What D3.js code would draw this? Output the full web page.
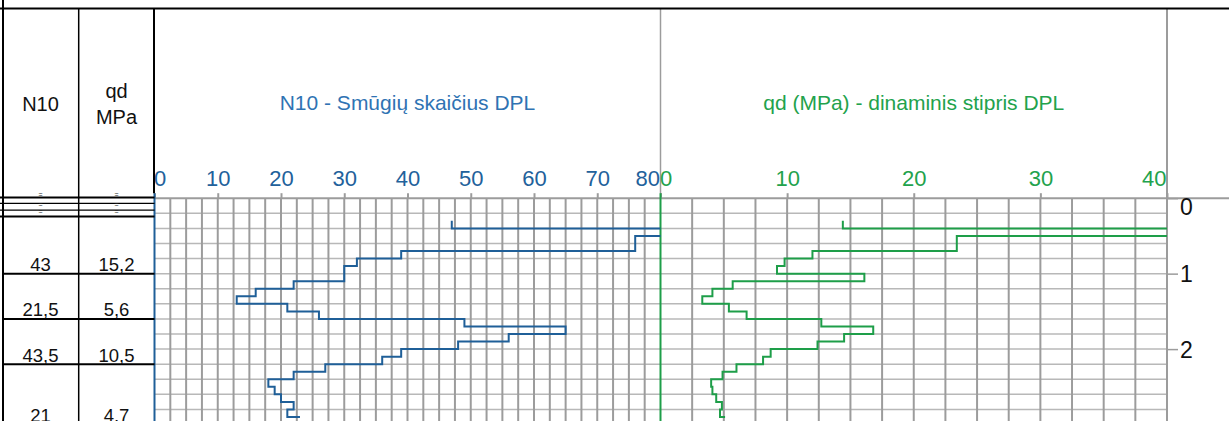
<!DOCTYPE html>
<html>
<head>
<meta charset="utf-8">
<script src="https://cdn.jsdelivr.net/npm/d3@7"></script>
<style>
  html, body { margin: 0; padding: 0; background: #ffffff; overflow: hidden; }
  svg { display: block; }
  svg text { font-family: Arial, "Liberation Sans", Helvetica, sans-serif; }
</style>
</head>
<body>
<svg id="chart" width="1229" height="421"></svg>
<script>
// depth of each DPL reading (m)
const depths = [0.3, 0.4, 0.5, 0.6, 0.7, 0.8, 0.9, 1.0, 1.1, 1.2, 1.3, 1.4, 1.5, 1.6, 1.7, 1.8, 1.9, 2.0, 2.1, 2.2, 2.3, 2.4, 2.5, 2.6, 2.7, 2.8, 2.9];
// blows per 10 cm (the 0.4 m reading runs off the 0-80 scale)
const n10Values = [47, 150, 76, 76, 39, 32, 30, 30, 22, 16, 13, 21, 26, 49, 65, 56, 48, 39, 36, 27, 22, 18, 19, 20, 22, 21, 23];
// dynamic resistance, MPa (the 0.4 m reading runs off the 0-40 scale)
const qdValues = [14.4, 46, 23.4, 23.4, 12, 9.8, 9.2, 16.1, 5.7, 4.1, 3.3, 5.4, 6.8, 12.7, 16.8, 14.5, 12.4, 8.7, 8.1, 6.0, 4.9, 4.0, 4.1, 4.4, 4.85, 4.7, 5.1];

const n10Ticks = [0, 10, 20, 30, 40, 50, 60, 70, 80];
const qdTicks = [0, 10, 20, 30, 40];
const depthTicks = [0, 1, 2];

// left summary table: bottom depth of each layer and its averages
const layerBottoms = [1.0, 1.6, 2.2, 3.0];
const layerN10 = ["43", "21,5", "43,5", "21"];
const layerQd = ["15,2", "5,6", "10,5", "4,7"];

const n10Title = "N10 - Smūgių skaičius DPL";
const qdTitle = "qd (MPa) - dinaminis stipris DPL";

const W = 1229, H = 421;
const blueLine = "#1f5f98", blueText = "#2f73b3", blueTick = "#22619b";
const greenLine = "#1e9e49", greenText = "#22a24c";
const gridV = "#9c9c9c", gridH = "#b8b8b8";

const svg = d3.select("#chart");

const x1 = d3.scaleLinear().domain([0, 80]).range([154.5, 660.5]);
const x2 = d3.scaleLinear().domain([0, 40]).range([660.5, 1167]);
const y = d3.scaleLinear().domain([0, 3]).range([198.2, 424.55]);
const gridTop = y(0);

// clip areas for each panel
const defs = svg.append("defs");
defs.append("clipPath").attr("id", "clipN10")
  .append("rect").attr("x", x1(0)).attr("y", 0).attr("width", x1(80) - x1(0)).attr("height", H);
defs.append("clipPath").attr("id", "clipQd")
  .append("rect").attr("x", x2(0)).attr("y", 0).attr("width", x2(40) - x2(0)).attr("height", H);

// horizontal grid every 0.2 m
const hLines = d3.range(0.2, 3.01, 0.2);
svg.append("g").selectAll("line").data(hLines).join("line")
  .attr("x1", x1(0)).attr("x2", x2(40))
  .attr("y1", d => y(d)).attr("y2", d => y(d))
  .attr("stroke", gridH).attr("stroke-width", 1.5);

// vertical grid every 2.5 units
svg.append("g").selectAll("line").data(d3.range(2.5, 80, 2.5)).join("line")
  .attr("x1", d => x1(d)).attr("x2", d => x1(d))
  .attr("y1", gridTop).attr("y2", H)
  .attr("stroke", gridV).attr("stroke-width", 2);
svg.append("g").selectAll("line").data(d3.range(2.5, 40, 2.5)).join("line")
  .attr("x1", d => x2(d)).attr("x2", d => x2(d))
  .attr("y1", gridTop).attr("y2", H)
  .attr("stroke", gridV).attr("stroke-width", 2);

// panel borders up to the header
svg.append("line").attr("x1", x2(0)).attr("x2", x2(0)).attr("y1", 9).attr("y2", gridTop - 5)
  .attr("stroke", gridV).attr("stroke-width", 1.5);
svg.append("line").attr("x1", x2(40)).attr("x2", x2(40)).attr("y1", 9).attr("y2", H)
  .attr("stroke", gridV).attr("stroke-width", 2);

// top grid line runs to the right edge
svg.append("line").attr("x1", x1(0)).attr("x2", W).attr("y1", gridTop).attr("y2", gridTop)
  .attr("stroke", gridV).attr("stroke-width", 2);

// top axes
function topAxis(scale, ticks, color) {
  const g = svg.append("g").attr("transform", "translate(0," + gridTop + ")")
    .call(d3.axisTop(scale).tickValues(ticks).tickSize(5).tickPadding(7.5));
  g.select(".domain").remove();
  g.selectAll(".tick line").attr("stroke", gridV).attr("stroke-width", 2);
  g.selectAll(".tick text")
    .attr("fill", color).attr("font-size", 22).attr("font-family", null)
    .attr("text-anchor", (d, i) => i === 0 ? "start" : i === ticks.length - 1 ? "end" : "middle")
    .attr("dx", (d, i) => i === 0 ? -1 : i === ticks.length - 1 ? -1 : 0);
  return g;
}
topAxis(x1, n10Ticks, blueTick);
topAxis(x2, qdTicks, greenText);

// zero axes of each panel
svg.append("line").attr("x1", x1(0)).attr("x2", x1(0)).attr("y1", gridTop - 5).attr("y2", H)
  .attr("stroke", blueLine).attr("stroke-width", 2);
svg.append("line").attr("x1", x2(0)).attr("x2", x2(0)).attr("y1", gridTop - 5).attr("y2", H)
  .attr("stroke", greenLine).attr("stroke-width", 2);

// step profiles
const n10Data = depths.map((d, i) => ({ depth: d, value: n10Values[i] }));
const qdData = depths.map((d, i) => ({ depth: d, value: qdValues[i] }));

svg.append("path").datum(n10Data)
  .attr("clip-path", "url(#clipN10)")
  .attr("fill", "none").attr("stroke", blueLine).attr("stroke-width", 2)
  .attr("d", d3.line().x(d => x1(d.value)).y(d => y(d.depth)).curve(d3.curveStepBefore));

svg.append("path").datum(qdData)
  .attr("clip-path", "url(#clipQd)")
  .attr("fill", "none").attr("stroke", greenLine).attr("stroke-width", 2)
  .attr("d", d3.line().x(d => x2(d.value)).y(d => y(d.depth)).curve(d3.curveStepBefore));

// depth axis on the right
const depthAxis = svg.append("g").attr("transform", "translate(" + x2(40) + ",0)")
  .call(d3.axisRight(y).tickValues(depthTicks).tickFormat(d3.format("d")).tickSize(11).tickPadding(2));
depthAxis.select(".domain").remove();
depthAxis.selectAll(".tick line").attr("stroke", gridV).attr("stroke-width", 1.5);
depthAxis.selectAll(".tick text")
  .attr("fill", "#111").attr("font-size", 23).attr("font-family", null)
  .attr("dy", (d, i) => i === 0 ? "0.72em" : "0.36em");

// panel titles
svg.append("text").attr("x", (x1(0) + x1(80)) / 2).attr("y", 110)
  .attr("text-anchor", "middle").attr("font-size", 21).attr("fill", blueText).text(n10Title);
svg.append("text").attr("x", (x2(0) + x2(40)) / 2).attr("y", 110)
  .attr("text-anchor", "middle").attr("font-size", 21).attr("fill", greenText).text(qdTitle);

// ---- left table ----
const colN10 = 40.5, colQd = 116.5;
const table = svg.append("g");

table.append("text").attr("x", colN10).attr("y", 111).attr("text-anchor", "middle")
  .attr("font-size", 20).attr("fill", "#111").text("N10");
table.append("text").attr("x", colQd).attr("y", 98).attr("text-anchor", "middle")
  .attr("font-size", 20).attr("fill", "#111").text("qd");
table.append("text").attr("x", colQd).attr("y", 124).attr("text-anchor", "middle")
  .attr("font-size", 20).attr("fill", "#111").text("MPa");

// thin header rows under the column titles
const thinRows = [197.5, 203.3, 210.2, 216.6];
table.selectAll("line.thin").data(thinRows).join("line")
  .attr("class", "thin")
  .attr("x1", 0).attr("x2", x1(0))
  .attr("y1", d => d).attr("y2", d => d)
  .attr("stroke", "#000").attr("stroke-width", (d, i) => i === 0 || i === 3 ? 2 : 1.3);
[colN10, colQd].forEach(cx => {
  [196.5, 206.5, 213.5].forEach(cy => {
    table.append("text").attr("x", cx).attr("y", cy).attr("text-anchor", "middle")
      .attr("font-size", 7).attr("fill", "#222").text("=");
  });
});

// layer rows
table.selectAll("line.layer").data(layerBottoms).join("line")
  .attr("class", "layer")
  .attr("x1", 3).attr("x2", x1(0))
  .attr("y1", d => y(d)).attr("y2", d => y(d))
  .attr("stroke", "#000").attr("stroke-width", 2);
table.selectAll("text.n10").data(layerBottoms).join("text")
  .attr("class", "n10")
  .attr("x", colN10).attr("y", d => y(d) - 2.5).attr("text-anchor", "middle")
  .attr("font-size", 18.5).attr("fill", "#111")
  .text((d, i) => layerN10[i]);
table.selectAll("text.qd").data(layerBottoms).join("text")
  .attr("class", "qd")
  .attr("x", colQd).attr("y", d => y(d) - 2.5).attr("text-anchor", "middle")
  .attr("font-size", 18.5).attr("fill", "#111")
  .text((d, i) => layerQd[i]);

// table frame
table.append("line").attr("x1", 0).attr("x2", W).attr("y1", 8.5).attr("y2", 8.5)
  .attr("stroke", "#000").attr("stroke-width", 2.2);
table.append("line").attr("x1", 3).attr("x2", 3).attr("y1", 0).attr("y2", H)
  .attr("stroke", "#000").attr("stroke-width", 2);
table.append("line").attr("x1", 78.7).attr("x2", 78.7).attr("y1", 8.5).attr("y2", H)
  .attr("stroke", "#000").attr("stroke-width", 1.5);
table.append("line").attr("x1", x1(0) - 0.5).attr("x2", x1(0) - 0.5).attr("y1", 8.5).attr("y2", gridTop - 5)
  .attr("stroke", "#000").attr("stroke-width", 2);
</script>
</body>
</html>
